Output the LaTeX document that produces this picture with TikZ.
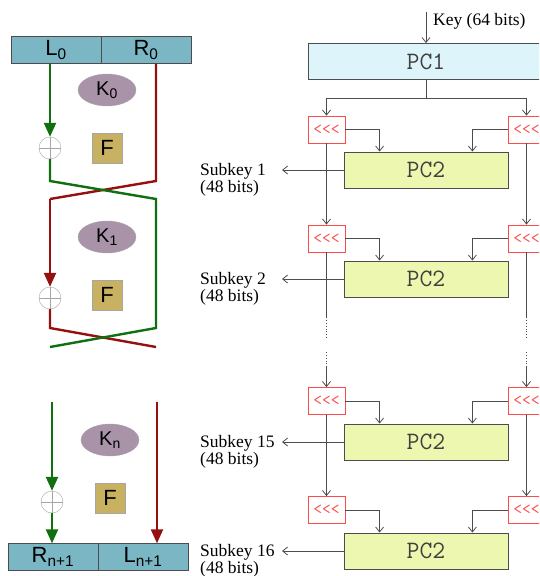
\documentclass[tikz,border=0pt]{standalone}
\usepackage{fontspec}
\setmainfont{Liberation Serif}
\setsansfont{Liberation Sans}
\usetikzlibrary{shapes.geometric, arrows.meta, calc}

\definecolor{halfcol}{HTML}{7AB6C4}
\definecolor{keycol}{HTML}{A993A9}
\definecolor{fcol}{HTML}{C9B162}
\definecolor{gcol}{HTML}{107010}
\definecolor{rcol}{HTML}{961010}
\definecolor{pcone}{HTML}{DDF4FA}
\definecolor{pctwo}{HTML}{EEF7B0}
\definecolor{shiftred}{HTML}{FF4A4A}

\tikzset{
  half/.style={draw=black!70, fill=halfcol, minimum width=90pt, minimum height=27pt, inner sep=0pt, font=\sffamily\fontsize{22}{22}\selectfont},
  keyell/.style={ellipse, draw=black!35, fill=keycol, minimum width=58pt, minimum height=32pt, inner sep=0pt, font=\sffamily\fontsize{20}{20}\selectfont},
  fnbox/.style={draw=black!35, fill=fcol, minimum size=30pt, inner sep=0pt, font=\sffamily\fontsize{22}{22}\selectfont},
  xor/.style={circle, draw=black!35, fill=white, minimum size=22pt, inner sep=0pt,
    path picture={\draw[black!35] (path picture bounding box.north) -- (path picture bounding box.south)
      (path picture bounding box.west) -- (path picture bounding box.east);}},
  gline/.style={line width=2.4pt, draw=gcol},
  rline/.style={line width=2.4pt, draw=rcol},
  bigtip/.style={-{Triangle[width=12pt,length=14pt]}},
  pcbox/.style={draw=black!70, line width=0.8pt, minimum height=36pt, inner sep=0pt, text=black!75, font=\ttfamily\fontsize{25}{25}\selectfont},
  shiftbox/.style={draw=shiftred, line width=0.8pt, fill=white, minimum width=37pt, minimum height=27pt, inner sep=0pt, text=shiftred, font=\ttfamily\fontsize{17}{17}\selectfont},
  ks/.style={draw=black!70, line width=0.8pt},
  ksarrow/.style={ks, -{Straight Barb[length=5pt,width=8pt]}},
  lbl/.style={font=\fontsize{17.5}{17}\selectfont, inner sep=0pt, align=left}
}

\begin{document}
\begin{tikzpicture}[x=1pt, y=-1pt]
  \useasboundingbox (0,0) rectangle (539,576);
  \clip (0,0) rectangle (539,576);

  % ==========================================
  % Left: Feistel rounds
  % ==========================================
  \node[half] (l0) at (56,50) {L\textsubscript{0}};
  \node[half] (r0) at (146,50) {R\textsubscript{0}};
  \coordinate (lc) at (50,0);
  \coordinate (rc) at (156,0);

  % round 0
  \node[keyell] (k0) at (107,90) {K\textsubscript{0}};
  \node[fnbox] (f0) at (107,148) {F};
  \node[xor] (x0) at (50,148) {};

  % round 1
  \node[keyell] (k1) at (107,237) {K\textsubscript{1}};
  \node[fnbox] (f1) at (107,295) {F};
  \node[xor] (x1) at (50,298) {};

  % crossings
  \coordinate (c0a) at (50,181);
  \coordinate (c0b) at (156,181);
  \coordinate (c0c) at (50,199);
  \coordinate (c0d) at (156,199);
  \coordinate (c1a) at (50,328);
  \coordinate (c1b) at (156,328);
  \coordinate (c1c) at (50,347);
  \coordinate (c1d) at (156,347);

  \draw[rline] (r0.south -| rc) -- (c0b) -- (c0c);
  \draw[rline, bigtip] (c0c) -- (x1);
  \draw[rline] (x1) -- (c1a) -- (c1d);
  \draw[gline, bigtip] (l0.south -| lc) -- (x0);
  \draw[gline] (x0) -- (c0a) -- (c0d) -- (c1b) -- (c1c);

  % last round
  \node[keyell] (kn) at (110,440) {K\textsubscript{n}};
  \node[fnbox] (fn) at (110,498) {F};
  \node[xor] (xn) at (52,502) {};
  \node[half] (rn) at (53,557) {R\textsubscript{n+1}};
  \node[half] (ln) at (143,557) {L\textsubscript{n+1}};
  \coordinate (gn) at (52,402);
  \coordinate (rd) at (157,402);

  \draw[gline, bigtip] (gn) -- (xn);
  \draw[gline, bigtip] (xn) -- (rn.north -| xn);
  \draw[rline, bigtip] (rd) -- (ln.north -| rd);

  % ==========================================
  % Right: key schedule
  % ==========================================
  \node[pcbox, fill=pcone, minimum width=236pt] (pc1) at (426,61.5) {PC1};
  \coordinate (keyin) at (426,12);
  \node[lbl, anchor=base west] (key) at (433,25) {Key (64 bits)};
  \draw[ksarrow] (keyin) -- (pc1);
  \coordinate (split) at (426,98);
  \draw[ks] (pc1) -- (split);

  \foreach \i/\ys/\yp/\nm in {1/129.5/170/1, 2/238.5/279/2, 3/401/442/15, 4/510/551/16} {
    \node[shiftbox] (sl\i) at (326.5,\ys) {<\kern0pt<\kern0pt<};
    \node[shiftbox] (sr\i) at (526.5,\ys) {<\kern0pt<\kern0pt<};
    \node[pcbox, fill=pctwo, minimum width=164pt] (pc\i) at (426,\yp) {PC2};
    \draw[ksarrow] (sl\i.east) -| ([xshift=36pt]pc\i.north west);
    \draw[ksarrow] (sr\i.west) -| ([xshift=-36pt]pc\i.north east);
    \coordinate (out\i) at (282,\yp);
    \draw[ksarrow] (pc\i) -- (out\i);
    \node[lbl, anchor=north west] (sk\i) at (200,\yp-7) {Subkey \nm\\(48 bits)};
  }

  \draw[ksarrow] (split) -| (sl1);
  \draw[ksarrow] (split) -| (sr1);
  \draw[ksarrow] (sl1) -- (sl2);
  \draw[ksarrow] (sr1) -- (sr2);
  \draw[ksarrow] (sl3) -- (sl4);
  \draw[ksarrow] (sr3) -- (sr4);

  % dotted gap
  \draw[ks] (sl2.south) -- ++(0,65) coordinate (dl);
  \draw[ks, dotted] (dl) -- ++(0,21);
  \draw[ks, dotted] ([yshift=35pt]sl3.north) -- ([yshift=20pt]sl3.north);
  \draw[ksarrow] ([yshift=20pt]sl3.north) -- (sl3);
  \draw[ks] (sr2.south) -- ++(0,65) coordinate (dr);
  \draw[ks, dotted] (dr) -- ++(0,21);
  \draw[ks, dotted] ([yshift=35pt]sr3.north) -- ([yshift=20pt]sr3.north);
  \draw[ksarrow] ([yshift=20pt]sr3.north) -- (sr3);

\end{tikzpicture}
\end{document}
